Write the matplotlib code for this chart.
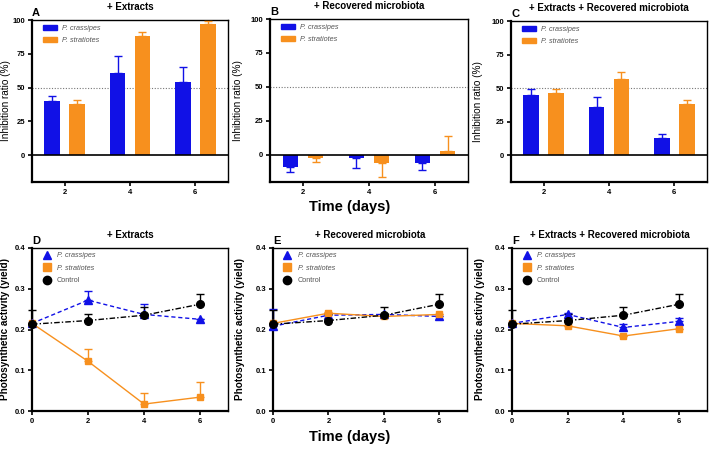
import matplotlib.pyplot as plt
import numpy as np
from matplotlib.patches import Patch
from matplotlib.lines import Line2D

plt.rcParams['font.family'] = ['Liberation Sans', 'DejaVu Sans']

# ---- dados: barras (inibicao %)
dias_bar = [2, 4, 6]
bar_titles = ['+ Extracts', '+ Recovered microbiota', '+ Extracts + Recovered microbiota']
bar_letters = ['A', 'B', 'C']
cras_bar = [[40, 61, 54], [-9, -2, -6], [45, 36, 13]]
cras_bar_err = [[4, 12, 11], [4, 8, 5], [4, 7, 3]]
strat_bar = [[38, 88, 97], [-2, -6, 3], [46, 57, 38]]
strat_bar_err = [[3, 3, 2], [3, 10, 11], [3, 5, 3]]

# ---- dados: linhas (atividade fotossintetica)
dias_lin = [0, 2, 4, 6]
lin_titles = bar_titles
lin_letters = ['D', 'E', 'F']
cras_lin = [[0.215, 0.272, 0.237, 0.225], [0.208, 0.235, 0.237, 0.232], [0.215, 0.237, 0.205, 0.220]]
cras_lin_err = [[0.0, 0.023, 0.025, 0.0], [0.042, 0.005, 0.0, 0.0], [0.0, 0.004, 0.008, 0.008]]
strat_lin = [[0.215, 0.122, 0.017, 0.034], [0.215, 0.240, 0.232, 0.237], [0.215, 0.209, 0.184, 0.202]]
strat_lin_err = [[0.0, 0.030, 0.028, 0.037], [0.0, 0.004, 0.0, 0.0], [0.0, 0.0, 0.0, 0.0]]
ctrl_lin = [0.213, 0.222, 0.235, 0.262]
ctrl_lin_err = [0.035, 0.017, 0.019, 0.024]

azul = '#1111e6'
laranja = '#f7901e'
cinza = '#555555'

W, H = 709, 450
fig = plt.figure(figsize=(W / 100, H / 100), dpi=100)


def eixo(l, r, t, b):
    return fig.add_axes([l / W, (H - b) / H, (r - l) / W, (b - t) / H])


def estilo(ax):
    for s in ax.spines.values():
        s.set_linewidth(1.0)
        s.set_color('black')
    ax.spines['left'].set_linewidth(1.6)
    ax.spines['bottom'].set_linewidth(1.6)
    ax.tick_params(direction='out', length=3, width=1.2, labelsize=5.5, pad=2)
    for lab in ax.get_xticklabels() + ax.get_yticklabels():
        lab.set_fontweight('bold')


pos_bar = [(32, 228, 20, 182), (270, 468, 19, 182), (511, 707, 21, 182)]
pos_lin = [(32, 228, 248, 411), (273, 467, 248, 411), (512, 707, 248, 411)]
ylab_bar = [-0.108, -0.136, -0.143]
ylab_lin = [-0.11, -0.144, -0.138]

x = np.array(dias_bar, dtype=float)
for k in range(3):
    ax = eixo(*pos_bar[k])
    cv = np.array(cras_bar[k]); ce = np.array(cras_bar_err[k])
    sv = np.array(strat_bar[k]); se = np.array(strat_bar_err[k])
    for vals, errs, off, cor in [(cv, ce, -0.38, azul), (sv, se, 0.38, laranja)]:
        ax.bar(x + off, vals, width=0.48, color=cor, zorder=2)
        lo = np.where(vals < 0, errs, 0)
        hi = np.where(vals >= 0, errs, 0)
        ax.errorbar(x + off, vals, yerr=[lo, hi], fmt='none', ecolor=cor,
                    elinewidth=1.0, capsize=3, capthick=1.0, zorder=3)
    ax.axhline(0, color='black', lw=1.2, zorder=4)
    ax.axhline(50, color='#777777', lw=0.8, ls=(0, (1, 1.5)), zorder=1)
    ax.set_xlim(1, 7)
    ax.set_ylim(-20, 100)
    ax.set_xticks(dias_bar)
    ax.set_yticks([0, 25, 50, 75, 100])
    ax.set_ylabel('Inhibition ratio (%)', fontsize=7.2)
    ax.yaxis.set_label_coords(ylab_bar[k], 0.5)
    estilo(ax)
    ax.set_title(bar_titles[k], fontsize=7, fontweight='bold', pad=7.5)
    ax.text(0.0, 1.012, bar_letters[k], transform=ax.transAxes, fontsize=8,
            fontweight='bold', ha='left', va='bottom')
    hs = [Patch(color=azul), Patch(color=laranja)]
    leg = ax.legend(hs, ['P. crassipes', 'P. stratiotes'], loc='upper left',
                    frameon=False, fontsize=5.2, handlelength=2.0, handleheight=0.6,
                    borderaxespad=0.3, labelspacing=0.7, handletextpad=0.6,
                    bbox_to_anchor=(0.03, 1.0))
    for t in leg.get_texts():
        t.set_color(cinza); t.set_fontstyle('italic')

fig.text(350 / W, 1 - 207 / H, 'Time (days)', ha='center', va='center',
         fontsize=10.5, fontweight='bold')

for k in range(3):
    ax = eixo(*pos_lin[k])
    series = [
        (cras_lin[k], cras_lin_err[k], azul, '^', (0, (3, 2)), 'P. crassipes', 5.5),
        (strat_lin[k], strat_lin_err[k], laranja, 's', '-', 'P. stratiotes', 5),
        (ctrl_lin, ctrl_lin_err, 'black', 'o', (0, (4, 1.5, 1, 1.5)), 'Control', 5.5),
    ]
    hs = []
    for vals, errs, cor, mk, ls, nome, ms in series:
        ax.errorbar(dias_lin, vals, yerr=[np.zeros(len(errs)), errs], fmt='none',
                    ecolor=cor, elinewidth=1.0, capsize=3, capthick=1.0,
                    clip_on=False, zorder=3)
        ax.plot(dias_lin, vals, color=cor, ls=ls, lw=1.0, marker=mk, ms=ms,
                clip_on=False, zorder=4)
        hs.append(Line2D([], [], color=cor, marker=mk, ls='none', ms=ms + 0.5))
    ax.set_xlim(0, 7)
    ax.set_ylim(0, 0.4)
    ax.set_xticks([0, 2, 4, 6])
    ax.set_yticks([0.0, 0.1, 0.2, 0.3, 0.4])
    ax.set_yticklabels(['0.0', '0.1', '0.2', '0.3', '0.4'])
    ax.set_ylabel('Photosynthetic activity (yield)', fontsize=7.2, fontweight='bold')
    ax.yaxis.set_label_coords(ylab_lin[k], 0.5)
    estilo(ax)
    ax.set_title(lin_titles[k], fontsize=7, fontweight='bold', pad=7.5)
    ax.text(0.0, 1.012, lin_letters[k], transform=ax.transAxes, fontsize=8,
            fontweight='bold', ha='left', va='bottom')
    leg = ax.legend(hs, ['P. crassipes', 'P. stratiotes', 'Control'], loc='upper left',
                    frameon=False, fontsize=5.2, handlelength=1.2, borderaxespad=0.2,
                    labelspacing=0.75, handletextpad=0.8, bbox_to_anchor=(0.03, 1.0))
    for t, n in zip(leg.get_texts(), ['P. crassipes', 'P. stratiotes', 'Control']):
        t.set_color(cinza)
        if n != 'Control':
            t.set_fontstyle('italic')

fig.text(350 / W, 1 - 437 / H, 'Time (days)', ha='center', va='center',
         fontsize=10.5, fontweight='bold')

fig.savefig('out.png', dpi=100)
